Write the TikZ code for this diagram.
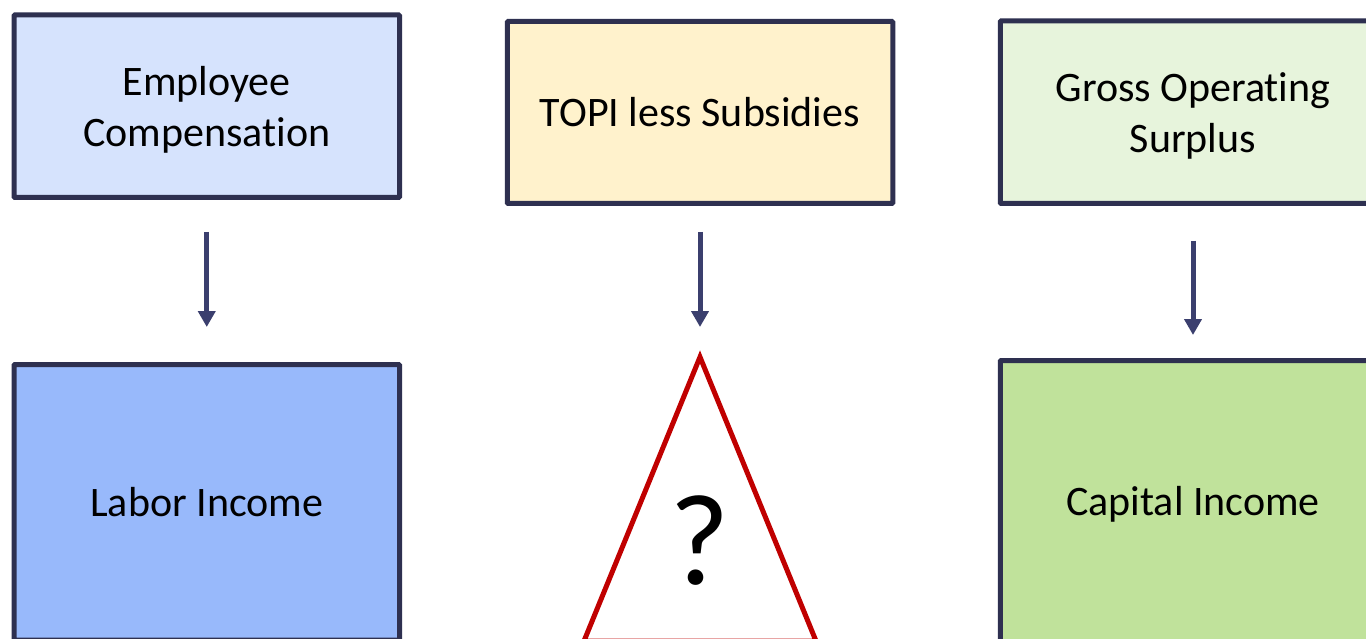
\documentclass[tikz,border=0pt]{standalone}
\usepackage{fontspec}
\setmainfont{Carlito}[Ligatures=NoCommon]
\usetikzlibrary{arrows.meta}
\definecolor{bordercol}{HTML}{2E3050}
\definecolor{arrowcol}{HTML}{3B3F6E}
\definecolor{redcol}{HTML}{C00000}
\definecolor{fillA}{HTML}{D6E3FD}
\definecolor{fillB}{HTML}{FFF2CC}
\definecolor{fillC}{HTML}{E7F4DC}
\definecolor{fillD}{HTML}{98B9FB}
\definecolor{fillE}{HTML}{C0E29B}
\tikzset{
  box/.style={draw=bordercol, line width=5pt, rounded corners=1pt, outer sep=0pt,
    inner sep=0pt, align=center, font=\fontsize{42}{51}\selectfont,
    minimum width=385.5pt},
  boxtext/.style={inner sep=0pt, align=center, font=\fontsize{42}{51}\selectfont, yshift=-4pt},
  arr/.style={draw=arrowcol, line width=5pt, -{Triangle[width=17pt,length=16pt]}},
}
\begin{document}
\begin{tikzpicture}[x=1pt,y=-1pt]
\useasboundingbox (0,0) rectangle (1366,639);
\clip (0,0) rectangle (1366,639);
\fill[white] (0,0) rectangle (1366,639);
% top row
\node[box, fill=fillA, minimum height=182.5pt,
  label={[boxtext]center:{Employee\\Compensation}}] (ec) at (206.75,106.25) {};
\node[box, fill=fillB, minimum height=182pt] (topi) at (700,112.5) {TOPI less Subsidies};
\node[box, fill=fillC, minimum height=182.5pt,
  label={[boxtext]center:{Gross Operating\\Surplus}}] (gos) at (1193,112.25) {};
% bottom row
\node[box, fill=fillD, minimum height=275.5pt] (li) at (206.75,502.25) {Labor Income};
\node[box, fill=fillE, minimum height=288pt] (ci) at (1193,504.5) {Capital Income};
% triangle
\coordinate (apex) at (700,357);
\coordinate (bl) at (584,641);
\coordinate (br) at (816,641);
\draw[redcol, line width=5pt, line join=miter] (apex) -- (br) -- (bl) -- cycle;
\node[font=\fontsize{130}{130}\selectfont, inner sep=0pt] (q) at (700,541) {?};
% arrows
\draw[arr, shorten <=34.5pt, shorten >=37.5pt] (ec.south) -- (li.north);
\draw[arr, shorten <=28.5pt, shorten >=30pt] (topi.south) -- (apex);
\draw[arr, shorten <=37.5pt, shorten >=25.5pt] (gos.south) -- (ci.north);
\end{tikzpicture}
\end{document}
